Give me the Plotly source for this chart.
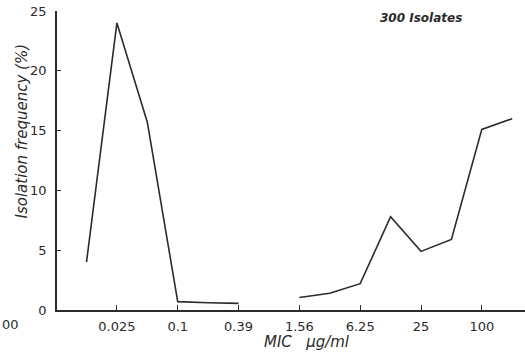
import plotly.graph_objects as go

# MIC doubling steps (µg/ml) and isolation frequency (%)
mic_steps = ["0.0125", "0.025", "0.05", "0.1", "0.2", "0.39", "0.78",
             "1.56", "3.13", "6.25", "12.5", "25", "50", "100", "200"]
frequency = [4.0, 24.0, 15.7, 0.7, 0.6, 0.55, None,
             1.05, 1.4, 2.2, 7.8, 4.9, 5.9, 15.1, 16.0]
tick_labels = ["0.025", "0.1", "0.39", "1.56", "6.25", "25", "100"]
y_ticks = [0, 5, 10, 15, 20, 25]

x_index = list(range(len(mic_steps)))
tick_positions = [mic_steps.index(t) for t in tick_labels]

FONT = "DejaVu Sans"
INK = "#2b2b2b"

fig = go.Figure()
fig.add_trace(go.Scatter(
    x=x_index, y=frequency, mode="lines",
    line=dict(color=INK, width=1.6),
    connectgaps=False, hoverinfo="skip", showlegend=False,
))

fig.update_layout(
    width=525, height=354,
    margin=dict(l=57, r=0, t=11, b=44),
    paper_bgcolor="white", plot_bgcolor="white",
    font=dict(family=FONT, color=INK, size=13),
    xaxis=dict(
        range=[-0.97, 14.42], tickvals=tick_positions, ticktext=tick_labels,
        showline=True, linecolor=INK, linewidth=1.5, ticks="inside",
        ticklen=5, tickcolor=INK, tickwidth=1.2, showgrid=False,
        zeroline=False, ticklabelstandoff=4,
        tickfont=dict(size=13, family=FONT, color=INK),
    ),
    yaxis=dict(
        range=[0, 25], tickvals=y_ticks,
        showline=True, linecolor=INK, linewidth=1.5, ticks="inside",
        ticklen=4, tickcolor=INK, tickwidth=1.2, showgrid=False,
        zeroline=False, ticklabelstandoff=6,
        tickfont=dict(size=13, family=FONT, color=INK),
    ),
    annotations=[
        dict(text="<i>Isolation frequency (%)</i>", xref="paper", yref="paper",
             x=-0.075, y=0.6, xanchor="center", yanchor="middle",
             textangle=-90, showarrow=False,
             font=dict(size=15, family=FONT, color=INK)),
        dict(text="<i>MIC   µg/ml</i>", xref="paper", yref="paper",
             x=0.534, y=-0.107, xanchor="center", yanchor="middle",
             showarrow=False,
             font=dict(size=15, family=FONT, color=INK)),
        dict(text="<b><i>300 Isolates</i></b>", xref="paper", yref="paper",
             x=0.778, y=0.977, xanchor="center", yanchor="middle",
             showarrow=False,
             font=dict(size=12, family=FONT, color=INK)),
        dict(text="00", xref="paper", yref="paper",
             x=-0.1218, y=-0.05, xanchor="left", yanchor="middle",
             showarrow=False,
             font=dict(size=13, family=FONT, color=INK)),
    ],
)

fig.write_html("out.html")
